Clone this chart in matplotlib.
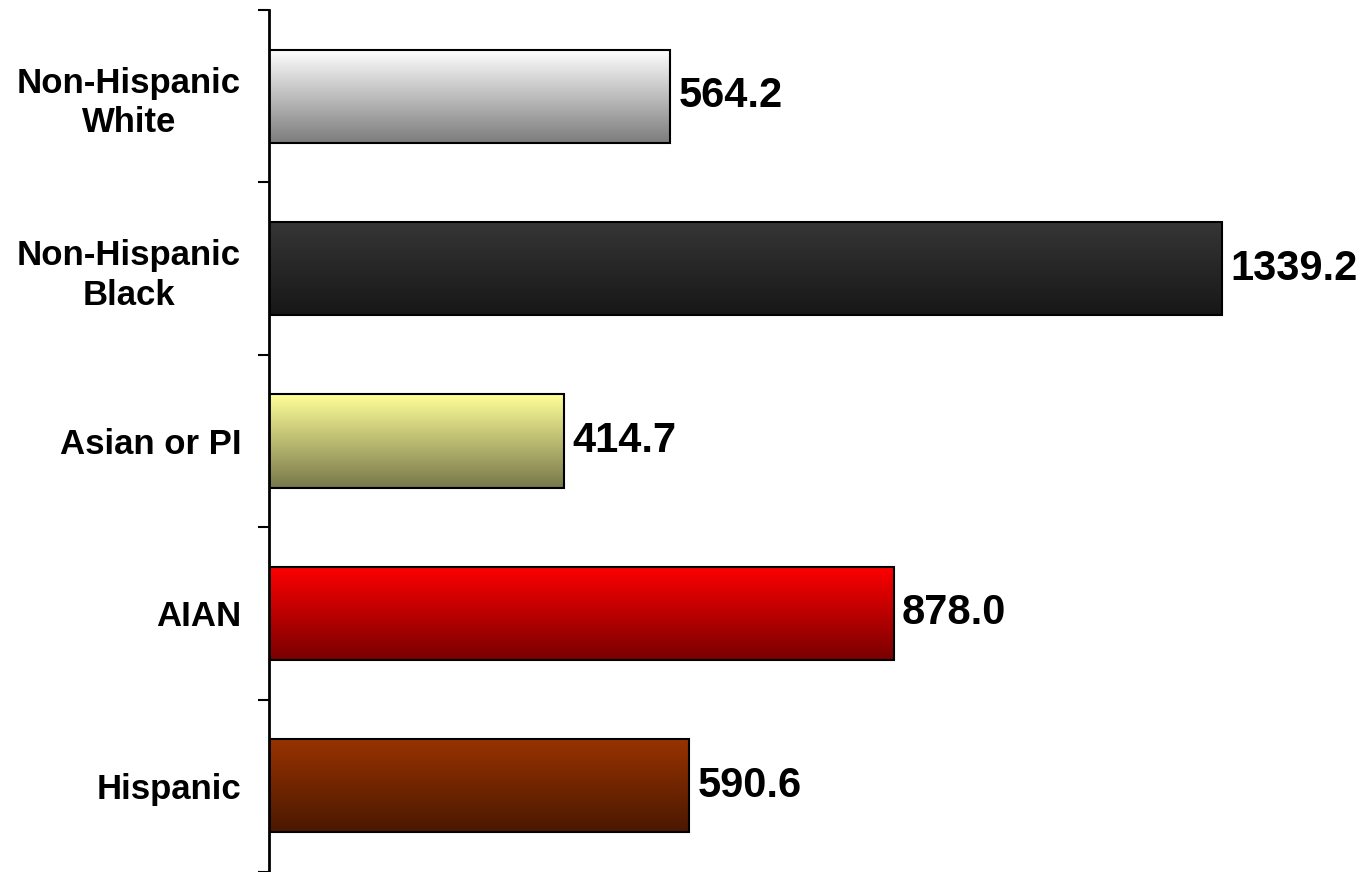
import numpy as np
import matplotlib
matplotlib.use("Agg")
import matplotlib.pyplot as plt
from matplotlib.colors import to_rgb

categories = ["Non-Hispanic\nWhite", "Non-Hispanic\nBlack", "Asian or PI", "AIAN", "Hispanic"]
values = [564.2, 1339.2, 414.7, 878.0, 590.6]
value_labels = ["564.2", "1339.2", "414.7", "878.0", "590.6"]
top_colors = ["#ffffff", "#363636", "#ffff99", "#ff0000", "#993300"]
bottom_colors = ["#7c7c7c", "#171717", "#77774a", "#780000", "#4a1800"]

plt.rcParams["font.family"] = ["Liberation Sans", "DejaVu Sans"]
plt.rcParams["font.weight"] = "bold"

fig = plt.figure(figsize=(13.65, 8.72), dpi=100)
ax = fig.add_axes([269 / 1365, 0.0, 1096 / 1365, 1 - 10 / 872])

bar_h = 0.54
pos = np.arange(len(categories))
bars = ax.barh(pos, values, height=bar_h, color="none", edgecolor="black",
               linewidth=1.5, zorder=3)

for i, (b, v) in enumerate(zip(bars, values)):
    c0 = np.array(to_rgb(top_colors[i]))
    c1 = np.array(to_rgb(bottom_colors[i]))
    t = np.linspace(0, 1, 256)[:, None, None]
    grad = c0 * (1 - t) + c1 * t
    im = ax.imshow(grad, extent=(0, v, i + bar_h / 2, i - bar_h / 2),
                   origin="upper", aspect="auto", interpolation="bilinear", zorder=2)
    im.set_clip_path(b)
    ax.text(v + 12, i, value_labels[i], va="center", ha="left",
            fontsize=30, fontweight="bold", zorder=4)

ax.set_xlim(0, 1096 / 0.7113)
ax.set_ylim(len(categories) - 0.5, -0.5)

ax.set_yticks(np.arange(-0.5, len(categories), 1.0))
ax.set_yticklabels([])
ax.set_yticks(pos, minor=True)
ax.set_yticklabels(categories, minor=True, fontsize=25, fontweight="bold",
                   linespacing=1.25)
ax.tick_params(axis="y", which="major", length=8, width=1.5, direction="out")
ax.tick_params(axis="y", which="minor", length=0, pad=20)
for lab in ax.get_yticklabels(minor=True):
    lab.set_horizontalalignment("right")
    lab.set_multialignment("center")

ax.set_xticks([])
for s in ["top", "right", "bottom"]:
    ax.spines[s].set_visible(False)
ax.spines["left"].set_linewidth(2)

fig.savefig("out.png", dpi=100)
